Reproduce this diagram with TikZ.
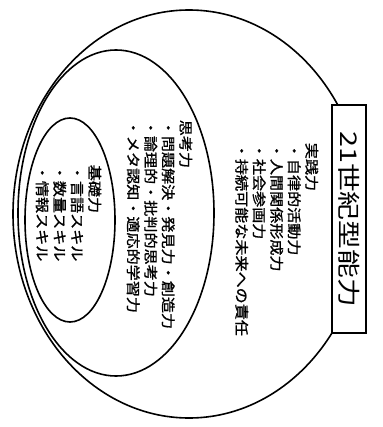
\documentclass[tikz,border=0pt]{standalone}
\usepackage{fontspec}
\newfontfamily\jpfont[FakeStretch=1.15,FakeBold=1.2]{Noto Sans CJK JP}
\newfontfamily\jptitlefont[FakeStretch=1.25]{Noto Sans CJK JP}

\begin{document}
\begin{tikzpicture}[x=1pt,y=1pt,line width=1.6pt]
      \tikzstyle{every node}=[inner sep=0pt,rotate=-90];
      \tikzstyle{block}=[align=left,anchor=north west,font={\jpfont\fontsize{14}{17.5}\selectfont}];
      \tikzstyle{titlebox}=[draw,fill=white,minimum width=228pt,minimum height=34pt,font={\jptitlefont\fontsize{23}{23}\selectfont}];
        \useasboundingbox (0,0) rectangle (382,-427);

        % three layers
        \draw (189,-214) ellipse [x radius=176pt, y radius=204pt];
        \draw (116,-213) ellipse [x radius=98pt, y radius=163pt];
        \draw (70,-220) ellipse [x radius=45pt, y radius=102pt];

        \path (349,-219) node[titlebox] (title) {21世紀型能力};

        \path (319,-142) node[block] (jissen) {実践力\\・自律的活動力\\・人間関係形成力\\・社会参画力\\・持続可能な未来への責任};
        \path (193,-119) node[block] (shikou) {思考力\\・問題解決・発見力・創造力\\・論理的・批判的思考力\\・メタ認知・適応的学習力};
        \path (102,-164) node[block] (kiso) {基礎力\\・言語スキル\\・数量スキル\\・情報スキル};
    \end{tikzpicture}
\end{document}
